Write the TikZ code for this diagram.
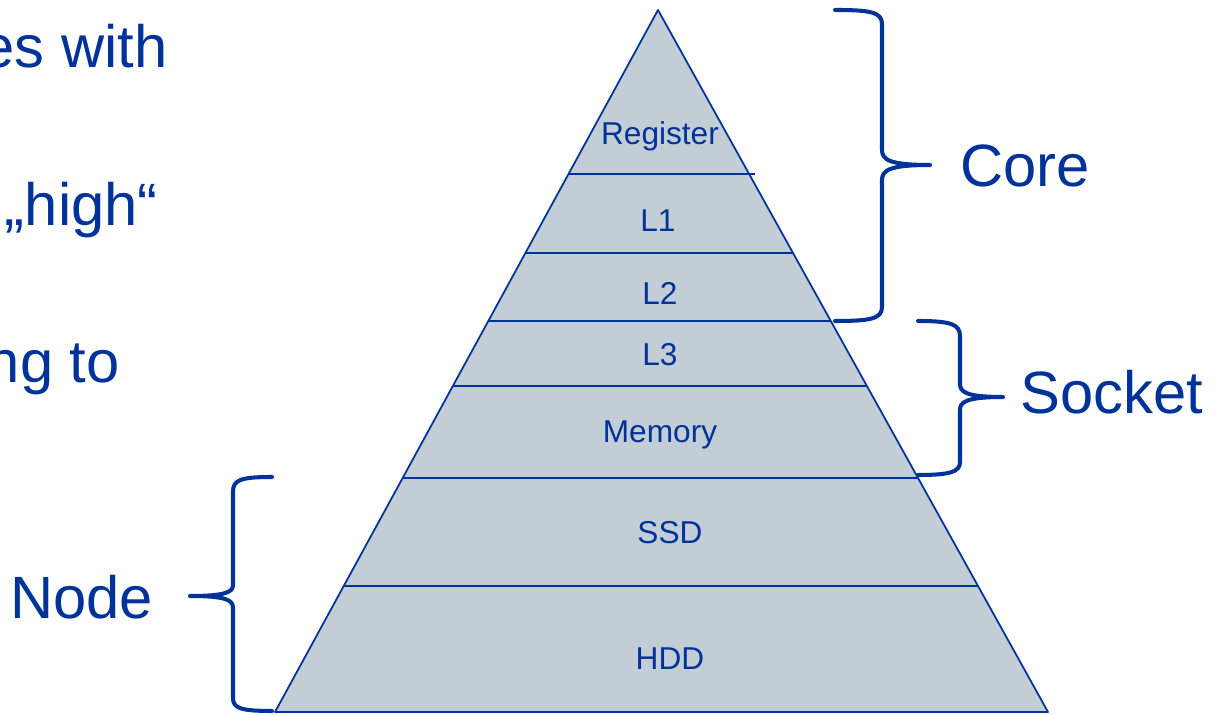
\documentclass[tikz,border=0pt]{standalone}
\usepackage{fontspec}
\setmainfont{Liberation Sans}
\usetikzlibrary{positioning}
\definecolor{darkblue}{HTML}{003399}
\definecolor{layerfill}{HTML}{C3CDD6}
\tikzset{
  layer/.style={font=\fontsize{18}{21}\selectfont,text=darkblue,inner sep=0pt,anchor=base},
  big/.style={font=\fontsize{34}{40}\selectfont,text=darkblue,inner sep=0pt},
  curly/.style={draw=darkblue,line width=2.3pt,line cap=round,line join=round},
  edge/.style={draw=darkblue,line width=1pt}
}
\begin{document}
\begin{tikzpicture}[x=0.02cm,y=-0.02cm]
\useasboundingbox (0,0) rectangle (1215,715);
\coordinate (apex) at (658,10);
\coordinate (bl) at (275,712);
\coordinate (br) at (1048,712);
\fill[layerfill] (apex) -- (bl) -- (br) -- cycle;
\foreach \y/\xl/\xr in {174/569/755,253/526/793,321/488/831,386/453/867,478/403/918,586/344/978}{\draw[edge] (\xl,\y) -- (\xr,\y);}
\draw[edge,line join=round] (apex) -- (bl) -- (br) -- cycle;
\foreach \n/\x/\y/\t in {reg/660/145/Register,lone/658/232/L1,ltwo/660/305/L2,lthree/660/366/L3,mem/660/443/Memory,ssd/670/544/SSD,hdd/670/670/HDD}{\node[layer] (\n) at (\x,\y) {\t};}
% braces
\draw[curly] (835,10) .. controls (870,10) and (882,12) .. (882,24) -- (882,150) .. controls (882,160) and (890,165) .. (930,165) .. controls (890,165) and (882,170) .. (882,180) -- (882,307) .. controls (882,319) and (870,321) .. (835,321);
\draw[curly] (918,321) .. controls (950,321) and (960,324) .. (960,336) -- (960,384) .. controls (960,392) and (966,397) .. (1003,397) .. controls (966,397) and (960,402) .. (960,410) -- (960,462) .. controls (960,472) and (950,475) .. (918,475);
\draw[curly] (272,477) .. controls (240,477) and (233,480) .. (233,492) -- (233,585) .. controls (233,592) and (226,596) .. (190,596) .. controls (226,596) and (233,600) .. (233,608) -- (233,698) .. controls (233,708) and (240,711) .. (272,711);
\node[big,anchor=base west] (core) at (960,187) {Core};
\node[big,anchor=base west] (socket) at (1020,414) {Socket};
\node[big,anchor=base west] (nodelbl) at (10,619) {Node};
\node[big,anchor=base east] (t1) at (168,68) {es with};
\node[big,anchor=base east] (t2) at (158,226) {„high“};
\node[big,anchor=base east] (t3) at (120,383) {ng to};
\end{tikzpicture}
\end{document}
